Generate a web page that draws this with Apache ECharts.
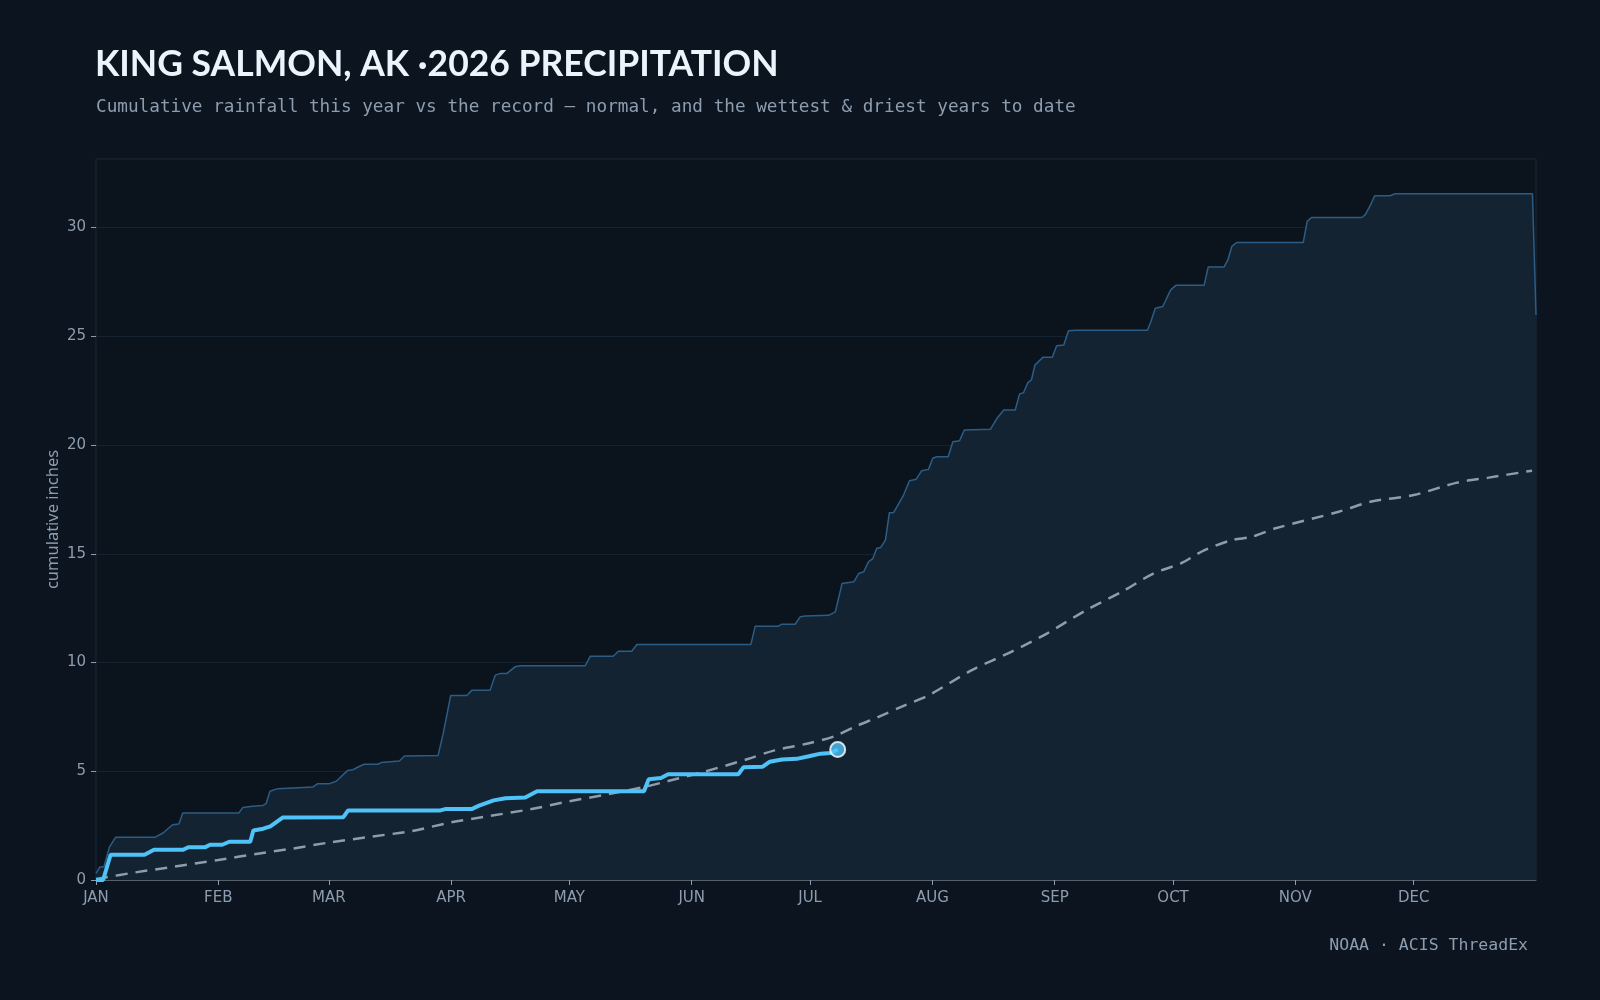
<!DOCTYPE html>
<html>
<head>
<meta charset="utf-8">
<script src="https://cdn.jsdelivr.net/npm/echarts@6/dist/echarts.min.js"></script>
<style>
html,body{margin:0;padding:0;background:#0c151f;}
#chart{width:1600px;height:1000px;}
</style>
</head>
<body>
<div id="chart"></div>
<script>
// x = day of year (0 = Jan 1), y = cumulative inches
const monthTicks = [0,31,59,90,120,151,181,212,243,273,304,334];
const monthLabels = ['JAN','FEB','MAR','APR','MAY','JUN','JUL','AUG','SEP','OCT','NOV','DEC'];
const yTicks = [0,5,10,15,20,25,30];

const wettest = [[0,0.3],[1,0.6],[2,0.6],[3.4,1.51],[5,1.97],[15,1.97],[17,2.16],[19.4,2.54],[21,2.57],[22,3.08],[36.2,3.08],[37.2,3.33],[39.7,3.39],[42.3,3.43],[43.1,3.51],[44.1,4.08],[46.1,4.2],[55,4.28],[56.2,4.43],[59.2,4.43],[60.9,4.54],[63.8,5.04],[65.1,5.07],[66.8,5.23],[68,5.32],[71.4,5.32],[72.3,5.4],[76.9,5.47],[78.2,5.7],[86.7,5.72],[88,6.73],[89.9,8.48],[94,8.48],[95.3,8.73],[99.9,8.73],[101.2,9.42],[102.4,9.49],[104.1,9.49],[106.2,9.8],[107.5,9.85],[124,9.85],[125.3,10.29],[131.1,10.29],[132.4,10.52],[135.8,10.52],[137.1,10.83],[166,10.83],[167.1,11.67],[173,11.67],[173.8,11.76],[177.2,11.76],[178.5,12.1],[179.8,12.14],[185.7,12.17],[187.4,12.33],[189.1,13.63],[192.1,13.71],[193.3,14.09],[194.6,14.17],[195.8,14.63],[196.9,14.78],[197.9,15.25],[198.9,15.29],[200.1,15.63],[201.1,16.89],[202.2,16.9],[204.7,17.7],[206.2,18.36],[207.9,18.43],[209.3,18.82],[211,18.88],[212.1,19.39],[213.1,19.46],[216,19.46],[217.2,20.15],[218.9,20.2],[220.1,20.69],[226.7,20.72],[228.4,21.23],[230.1,21.61],[233,21.61],[234.1,22.35],[235.1,22.4],[236.2,22.87],[237.1,22.99],[238,23.68],[240,24.03],[242.4,24.03],[243.5,24.56],[245.3,24.6],[246.5,25.25],[248.4,25.28],[266.5,25.28],[267.3,25.63],[268.5,26.29],[270.4,26.37],[272.4,27.13],[273.8,27.35],[280.9,27.35],[281.9,28.18],[285.9,28.18],[286.9,28.51],[287.9,29.13],[289.1,29.31],[306,29.31],[307,30.28],[308.1,30.46],[320.8,30.46],[321.7,30.58],[323.2,31.09],[324.1,31.46],[328,31.46],[329.3,31.55],[364.1,31.55],[365,25.98]];

const normal = [[0,0.05],[10,0.35],[20,0.62],[31,0.92],[41,1.21],[50,1.45],[59,1.72],[70,2.0],[80,2.25],[90,2.65],[100,2.95],[110,3.25],[120,3.62],[130,3.95],[139,4.28],[145,4.55],[154,4.97],[165,5.55],[172,5.96],[181,6.3],[187,6.6],[193,7.1],[198,7.47],[205,8.03],[211,8.49],[222,9.65],[232,10.49],[241,11.33],[251,12.41],[260,13.25],[268,14.09],[275,14.56],[281,15.17],[288,15.63],[293,15.78],[299,16.17],[315,16.93],[323,17.39],[334,17.7],[345,18.27],[353,18.5],[364,18.82]];

const current2026 = [[0,0],[1.8,0],[3.7,1.16],[12.3,1.16],[14.7,1.39],[22.1,1.39],[23.4,1.51],[27.7,1.51],[28.9,1.62],[32,1.62],[33.8,1.76],[39.1,1.76],[39.9,2.28],[42.4,2.36],[44.2,2.47],[47.3,2.87],[62.7,2.89],[63.9,3.2],[87.3,3.2],[88.5,3.26],[95.2,3.26],[97.1,3.42],[100.8,3.66],[103.8,3.76],[108.8,3.79],[111.8,4.08],[138.9,4.08],[140.1,4.63],[143.2,4.69],[145,4.86],[162.8,4.86],[164.1,5.18],[169,5.21],[170.8,5.44],[173.9,5.54],[177.6,5.57],[180.7,5.69],[183.7,5.81],[186.2,5.84],[188,6.0]];

const chart = echarts.init(document.getElementById('chart'), null, {renderer:'canvas'});
const labelColor = '#8d9db0';
chart.setOption({
  backgroundColor: '#0c151f',
  animation: false,
  title: [
    {text: 'KING SALMON, AK ·2026 PRECIPITATION', left: 95, top: 47, padding: 0,
     textStyle: {color: '#eaf4fb', fontFamily: 'Lato', fontWeight: 'bold', fontSize: 35.5}},
    {text: 'Cumulative rainfall this year vs the record — normal, and the wettest & driest years to date',
     left: 96, top: 98, padding: 0, textStyle: {color: '#8d9db0', fontFamily: 'DejaVu Sans Mono', fontWeight: 'normal', fontSize: 17.7}},
    {text: 'NOAA · ACIS ThreadEx', right: 72, top: 937, padding: 0,
     textStyle: {color: '#8d9db0', fontFamily: 'DejaVu Sans Mono', fontWeight: 'normal', fontSize: 16.5}}
  ],
  grid: {left: 96, right: 64, top: 159, bottom: 120, show: true, backgroundColor: '#0b141d', borderColor: '#1a2b3b', borderWidth: 1},
  xAxis: {
    type: 'value', min: 0, max: 365,
    axisLine: {show: true, lineStyle: {color: '#56606a', width: 1}},
    axisTick: {show: true, customValues: monthTicks, length: 5, lineStyle: {color: '#8d9db0'}},
    axisLabel: {customValues: monthTicks, color: labelColor, fontFamily: 'DejaVu Sans', fontSize: 15, margin: 11,
      formatter: v => monthLabels[monthTicks.indexOf(v)] || ''},
    splitLine: {show: false}
  },
  yAxis: {
    type: 'value', min: 0, max: 33.15, interval: 5,
    name: 'cumulative inches', nameLocation: 'middle', nameGap: 34, nameMoveOverlap: false,
    nameTextStyle: {color: labelColor, fontFamily: 'Noto Sans', fontSize: 16.5},
    axisLine: {show: false},
    axisTick: {show: true, customValues: yTicks, length: 5, lineStyle: {color: '#8d9db0'}},
    axisLabel: {customValues: yTicks, color: labelColor, fontFamily: 'DejaVu Sans', fontSize: 15, margin: 10},
    splitLine: {show: true, lineStyle: {color: '#152331', width: 1}}
  },
  series: [
    {type: 'line', name: 'wettest', data: wettest, showSymbol: false, z: 1,
     lineStyle: {color: '#2b5d86', width: 1.5},
     areaStyle: {color: '#132332', opacity: 1, origin: 'start'}},
    {type: 'line', name: 'normal', data: normal, showSymbol: false, smooth: 0.3, z: 2,
     lineStyle: {color: '#8e9dab', width: 2.5, type: [12, 8]}},
    {type: 'line', name: '2026', data: current2026, showSymbol: false, z: 3,
     lineStyle: {color: '#4fc3f7', width: 4}},
    {type: 'scatter', name: 'latest', data: [current2026[current2026.length - 1]], z: 4,
     symbolSize: 15, itemStyle: {color: '#4fc3f7', borderColor: '#ffffff', borderWidth: 2}}
  ]
});
</script>
</body>
</html>
